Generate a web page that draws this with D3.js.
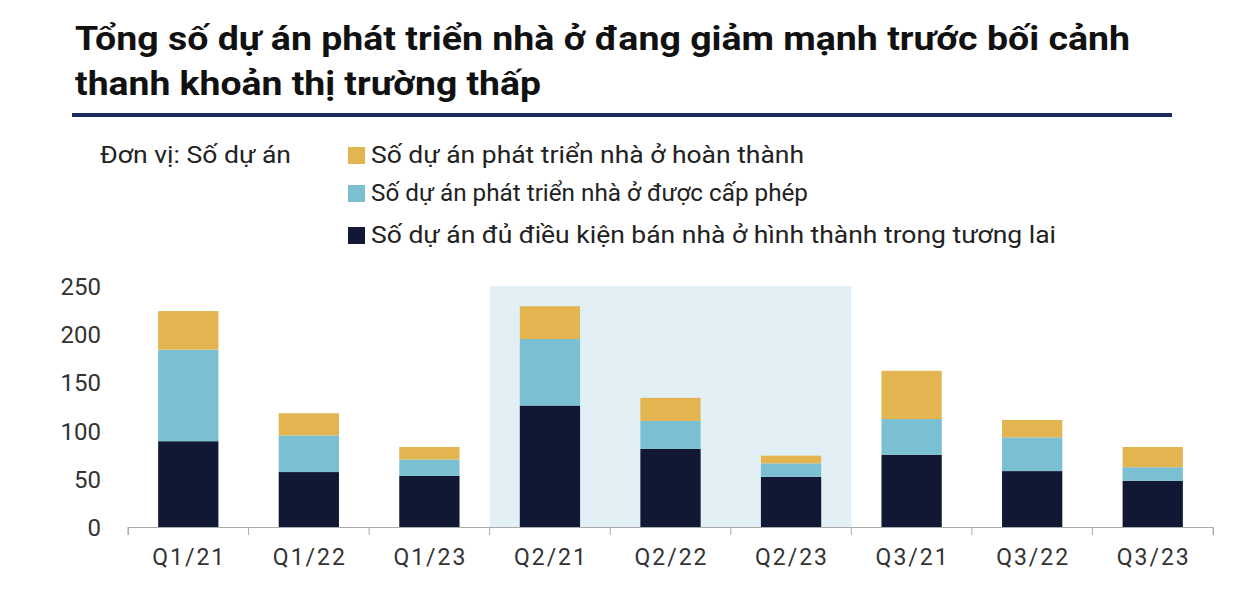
<!DOCTYPE html>
<html><head><meta charset="utf-8">
<script src="https://cdn.jsdelivr.net/npm/d3@7"></script>
<style>body{margin:0;background:#fff;font-family:Roboto,"Liberation Sans",sans-serif}</style>
</head><body><svg id="c" width="1240" height="594"></svg>
<script>
const categories=["Q1/21","Q1/22","Q1/23","Q2/21","Q2/22","Q2/23","Q3/21","Q3/22","Q3/23"];
const futureSale=[89,57,53,126,81,52,75,58,48];
const licensed=[95,38,17,69,29,14,37,35,14];
const completed=[40,23,13,34,24,8,50,18,21];
const yTicks=[0,50,100,150,200,250];
const seriesNames=["Số dự án phát triển nhà ở hoàn thành","Số dự án phát triển nhà ở được cấp phép","Số dự án đủ điều kiện bán nhà ở hình thành trong tương lai"];
const colors={completed:"#E3B550",licensed:"#7BBFD3",future:"#111833"};

const svg=d3.select("#c");
svg.append("text").attr("x",75).attr("y",50).attr("font-size",34).attr("font-weight",700).attr("fill","#111").attr("textLength",1055).attr("lengthAdjust","spacingAndGlyphs").text("Tổng số dự án phát triển nhà ở đang giảm mạnh trước bối cảnh");
svg.append("text").attr("x",75).attr("y",95).attr("font-size",34).attr("font-weight",700).attr("fill","#111").attr("textLength",466).attr("lengthAdjust","spacingAndGlyphs").text("thanh khoản thị trường thấp");
svg.append("rect").attr("x",72).attr("y",113).attr("width",1100).attr("height",4).attr("fill","#1B2A5E");
svg.append("text").attr("x",100).attr("y",163).attr("font-size",23).attr("fill","#222").attr("textLength",191).attr("lengthAdjust","spacingAndGlyphs").text("Đơn vị: Số dự án");
const lc=[colors.completed,colors.licensed,colors.future];
const lw=[433,437,685];
seriesNames.forEach((n,i)=>{const y=[155,193,235][i];
 svg.append("rect").attr("x",348).attr("y",y-8).attr("width",17).attr("height",17).attr("fill",lc[i]);
 svg.append("text").attr("x",371).attr("y",y+8).attr("font-size",23).attr("fill","#222").attr("textLength",lw[i]).attr("lengthAdjust","spacingAndGlyphs").text(n);});

const x=d3.scaleBand().domain(categories).range([128,1213]).paddingInner(0.5).paddingOuter(0.25);
const y=d3.scaleLinear().domain([0,250]).range([527,286]);
const band=d3.scaleBand().domain(categories).range([128,1213]);
svg.append("rect").attr("x",band("Q2/21")).attr("y",y(250)).attr("width",band.bandwidth()*3).attr("height",y(0)-y(250)).attr("fill","#E2F0F6");

const data=categories.map((c,i)=>({c,future:futureSale[i],licensed:licensed[i],completed:completed[i]}));
const stack=d3.stack().keys(["future","licensed","completed"])(data);
stack.forEach(s=>{svg.append("g").selectAll("rect").data(s).join("rect")
 .attr("x",d=>x(d.data.c)).attr("width",x.bandwidth()).attr("y",d=>y(d[1])).attr("height",d=>y(d[0])-y(d[1])).attr("fill",colors[s.key]);});

const ya=svg.append("g").attr("transform","translate(101,0)").call(d3.axisLeft(y).tickValues(yTicks).tickSize(0).tickPadding(0));
ya.select(".domain").remove();
ya.selectAll("text").attr("font-size",24).attr("fill","#333").attr("font-family","Roboto,sans-serif").attr("dy","0.35em");
const xa=svg.append("g").attr("transform","translate(0,527)").call(d3.axisBottom(band).tickSize(8).tickPadding(14));
xa.select(".domain").attr("stroke","#aaa");
xa.selectAll("line").attr("stroke","#aaa").attr("transform",`translate(${-band.bandwidth()/2},0)`);
xa.selectAll("text").attr("font-size",23).attr("fill","#333").attr("font-family","Roboto,sans-serif").attr("textLength",72).attr("lengthAdjust","spacing").attr("x",-36).attr("text-anchor","start");
svg.append("line").attr("x1",1213).attr("x2",1213).attr("y1",527).attr("y2",535).attr("stroke","#aaa");
</script></body></html>
